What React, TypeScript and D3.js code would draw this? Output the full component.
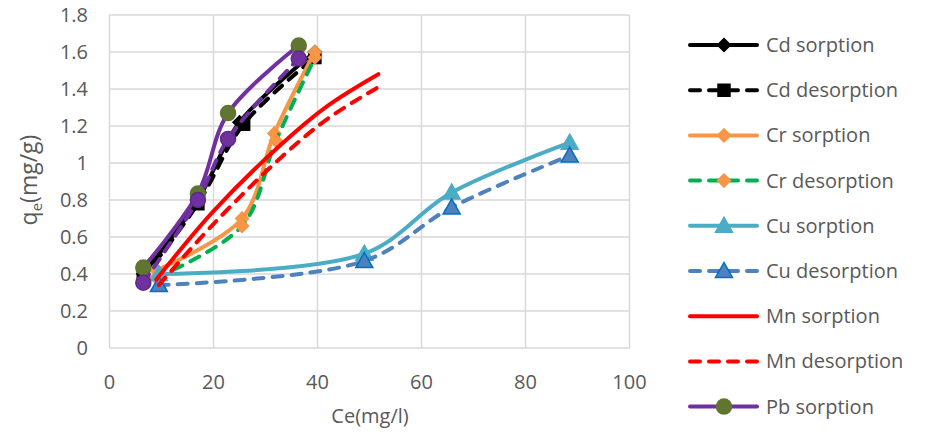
import React from "react";
import * as d3 from "d3";

const xTicks = [0, 20, 40, 60, 80, 100];
const yTicks = [0, 0.2, 0.4, 0.6, 0.8, 1, 1.2, 1.4, 1.6, 1.8];

const cdSorptionX = [6.5, 17, 25, 39.5];
const cdSorptionY = [0.4, 0.8, 1.22, 1.6];
const cdDesorptionX = [6.5, 17, 25.8, 39.5];
const cdDesorptionY = [0.38, 0.78, 1.21, 1.57];
const crSorptionX = [9, 25.5, 31.7, 39.5];
const crSorptionY = [0.42, 0.7, 1.16, 1.6];
const crDesorptionX = [9, 25.5, 32, 39.5];
const crDesorptionY = [0.38, 0.66, 1.12, 1.57];
const cuSorptionX = [9.5, 49, 65.8, 88.5];
const cuSorptionY = [0.4, 0.51, 0.84, 1.11];
const cuDesorptionX = [9.5, 49, 65.8, 88.5];
const cuDesorptionY = [0.34, 0.47, 0.76, 1.04];
const mnSorptionX = [9, 20, 33, 42, 51.7];
const mnSorptionY = [0.37, 0.74, 1.1, 1.31, 1.48];
const mnDesorptionX = [9.5, 20, 33, 42, 51.7];
const mnDesorptionY = [0.34, 0.67, 1.03, 1.24, 1.41];
const pbSorptionX = [6.5, 17, 22.8, 36.4];
const pbSorptionY = [0.435, 0.835, 1.27, 1.635];
const pbDesorptionX = [6.5, 17, 22.8, 36.4];
const pbDesorptionY = [0.353, 0.8, 1.13, 1.565];

type Marker = "diamond" | "square" | "triangle" | "circle" | "none";
interface Series {
  name: string;
  xs: number[];
  ys: number[];
  color: string;
  dashed: boolean;
  marker: Marker;
  mFill: string;
  mStroke: string;
  legend: boolean;
}

const series: Series[] = [
  { name: "Cd sorption", xs: cdSorptionX, ys: cdSorptionY, color: "#000000", dashed: false, marker: "diamond", mFill: "#000000", mStroke: "#000000", legend: true },
  { name: "Cd desorption", xs: cdDesorptionX, ys: cdDesorptionY, color: "#000000", dashed: true, marker: "square", mFill: "#000000", mStroke: "#000000", legend: true },
  { name: "Cr sorption", xs: crSorptionX, ys: crSorptionY, color: "#F79646", dashed: false, marker: "diamond", mFill: "#F79646", mStroke: "#F79646", legend: true },
  { name: "Cr desorption", xs: crDesorptionX, ys: crDesorptionY, color: "#00B050", dashed: true, marker: "diamond", mFill: "#F79646", mStroke: "#F79646", legend: true },
  { name: "Cu sorption", xs: cuSorptionX, ys: cuSorptionY, color: "#4BACC6", dashed: false, marker: "triangle", mFill: "#4BACC6", mStroke: "#4BACC6", legend: true },
  { name: "Cu desorption", xs: cuDesorptionX, ys: cuDesorptionY, color: "#4F81BD", dashed: true, marker: "triangle", mFill: "#4F81BD", mStroke: "#0070C0", legend: true },
  { name: "Mn sorption", xs: mnSorptionX, ys: mnSorptionY, color: "#FF0000", dashed: false, marker: "none", mFill: "none", mStroke: "none", legend: true },
  { name: "Mn desorption", xs: mnDesorptionX, ys: mnDesorptionY, color: "#FF0000", dashed: true, marker: "none", mFill: "none", mStroke: "none", legend: true },
  { name: "Pb sorption", xs: pbSorptionX, ys: pbSorptionY, color: "#7030A0", dashed: false, marker: "circle", mFill: "#5F7530", mStroke: "#5F7530", legend: true },
  { name: "Pb desorption", xs: pbDesorptionX, ys: pbDesorptionY, color: "#7030A0", dashed: true, marker: "circle", mFill: "#7030A0", mStroke: "#5B2C82", legend: false },
];

const markerPath = (m: Marker): string => {
  switch (m) {
    case "diamond":
      return "M0,-6.5L6.5,0L0,6.5L-6.5,0Z";
    case "square":
      return "M-6,-6H6V6H-6Z";
    case "triangle":
      return "M0,-8.5L8.5,6.5H-8.5Z";
    case "circle":
      return d3.arc()({ innerRadius: 0, outerRadius: 7.5, startAngle: 0, endAngle: Math.PI * 2 }) as string;
    default:
      return "";
  }
};

const FONT = "'Open Sans', 'Noto Sans', sans-serif";
const TEXT = "#595959";

export default function App() {
  const x = d3.scaleLinear().domain([0, 100]).range([109.5, 629.5]);
  const y = d3.scaleLinear().domain([0, 1.8]).range([348, 15]);
  const line = d3
    .line<[number, number]>()
    .x((d) => x(d[0]))
    .y((d) => y(d[1]))
    .curve(d3.curveCatmullRom.alpha(0.5));

  const legendX0 = 690;
  const legendX1 = 757;
  const legendY0 = 45;
  const legendStep = 45.2;

  return (
    <div style={{ position: "absolute", left: 0, top: 0 }}>
      <svg width={931} height={434} style={{ display: "block", background: "#fff" }}>
        {yTicks.map((t) => (
          <line key={"gy" + t} x1={x(0)} x2={x(100)} y1={y(t)} y2={y(t)} stroke="#D9D9D9" strokeWidth={1.5} />
        ))}
        {xTicks.map((t) => (
          <line key={"gx" + t} x1={x(t)} x2={x(t)} y1={y(0)} y2={y(1.8)} stroke="#D9D9D9" strokeWidth={1.5} />
        ))}
        {yTicks.map((t) => (
          <text key={"ty" + t} x={88} y={y(t)} dy="0.35em" textAnchor="end" fontFamily={FONT} fontSize={20} fill={TEXT}>
            {d3.format("~g")(t)}
          </text>
        ))}
        {xTicks.map((t) => (
          <text key={"tx" + t} x={x(t)} y={389} textAnchor="middle" fontFamily={FONT} fontSize={20} fill={TEXT}>
            {t}
          </text>
        ))}
        <text x={370} y={423} textAnchor="middle" fontFamily={FONT} fontSize={20} fill={TEXT}>
          Ce(mg/l)
        </text>
        <text transform="translate(37,180) rotate(-90)" textAnchor="middle" fontFamily={FONT} fontSize={23} fill={TEXT}>
          q<tspan fontSize={15} dy={5}>e</tspan>
          <tspan dy={-5}>(mg/g)</tspan>
        </text>
        {series.map((s) => {
          const pts = s.xs.map((v, i) => [v, s.ys[i]] as [number, number]);
          return (
            <g key={s.name}>
              <path
                d={line(pts) as string}
                fill="none"
                stroke={s.color}
                strokeWidth={4}
                strokeLinecap="round"
                strokeLinejoin="round"
                strokeDasharray={s.dashed ? "10,9" : undefined}
              />
              {s.marker !== "none" &&
                pts.map((p, i) => (
                  <path
                    key={i}
                    d={markerPath(s.marker)}
                    transform={`translate(${x(p[0])},${y(p[1])})`}
                    fill={s.mFill}
                    stroke={s.mStroke}
                    strokeWidth={1.5}
                  />
                ))}
            </g>
          );
        })}
        {series
          .filter((s) => s.legend)
          .map((s, i) => {
            const ly = legendY0 + i * legendStep;
            const cx = 724;
            return (
              <g key={"lg" + s.name}>
                <line
                  x1={legendX0}
                  x2={legendX1}
                  y1={ly}
                  y2={ly}
                  stroke={s.color}
                  strokeWidth={4}
                  strokeLinecap="round"
                  strokeDasharray={s.dashed ? "10,9" : undefined}
                />
                {s.marker !== "none" && (
                  <path d={markerPath(s.marker)} transform={`translate(${cx},${ly})`} fill={s.mFill} stroke={s.mStroke} strokeWidth={1.5} />
                )}
                <text x={766} y={ly} dy="0.35em" fontFamily={FONT} fontSize={20} fill={TEXT}>
                  {s.name}
                </text>
              </g>
            );
          })}
      </svg>
    </div>
  );
}
